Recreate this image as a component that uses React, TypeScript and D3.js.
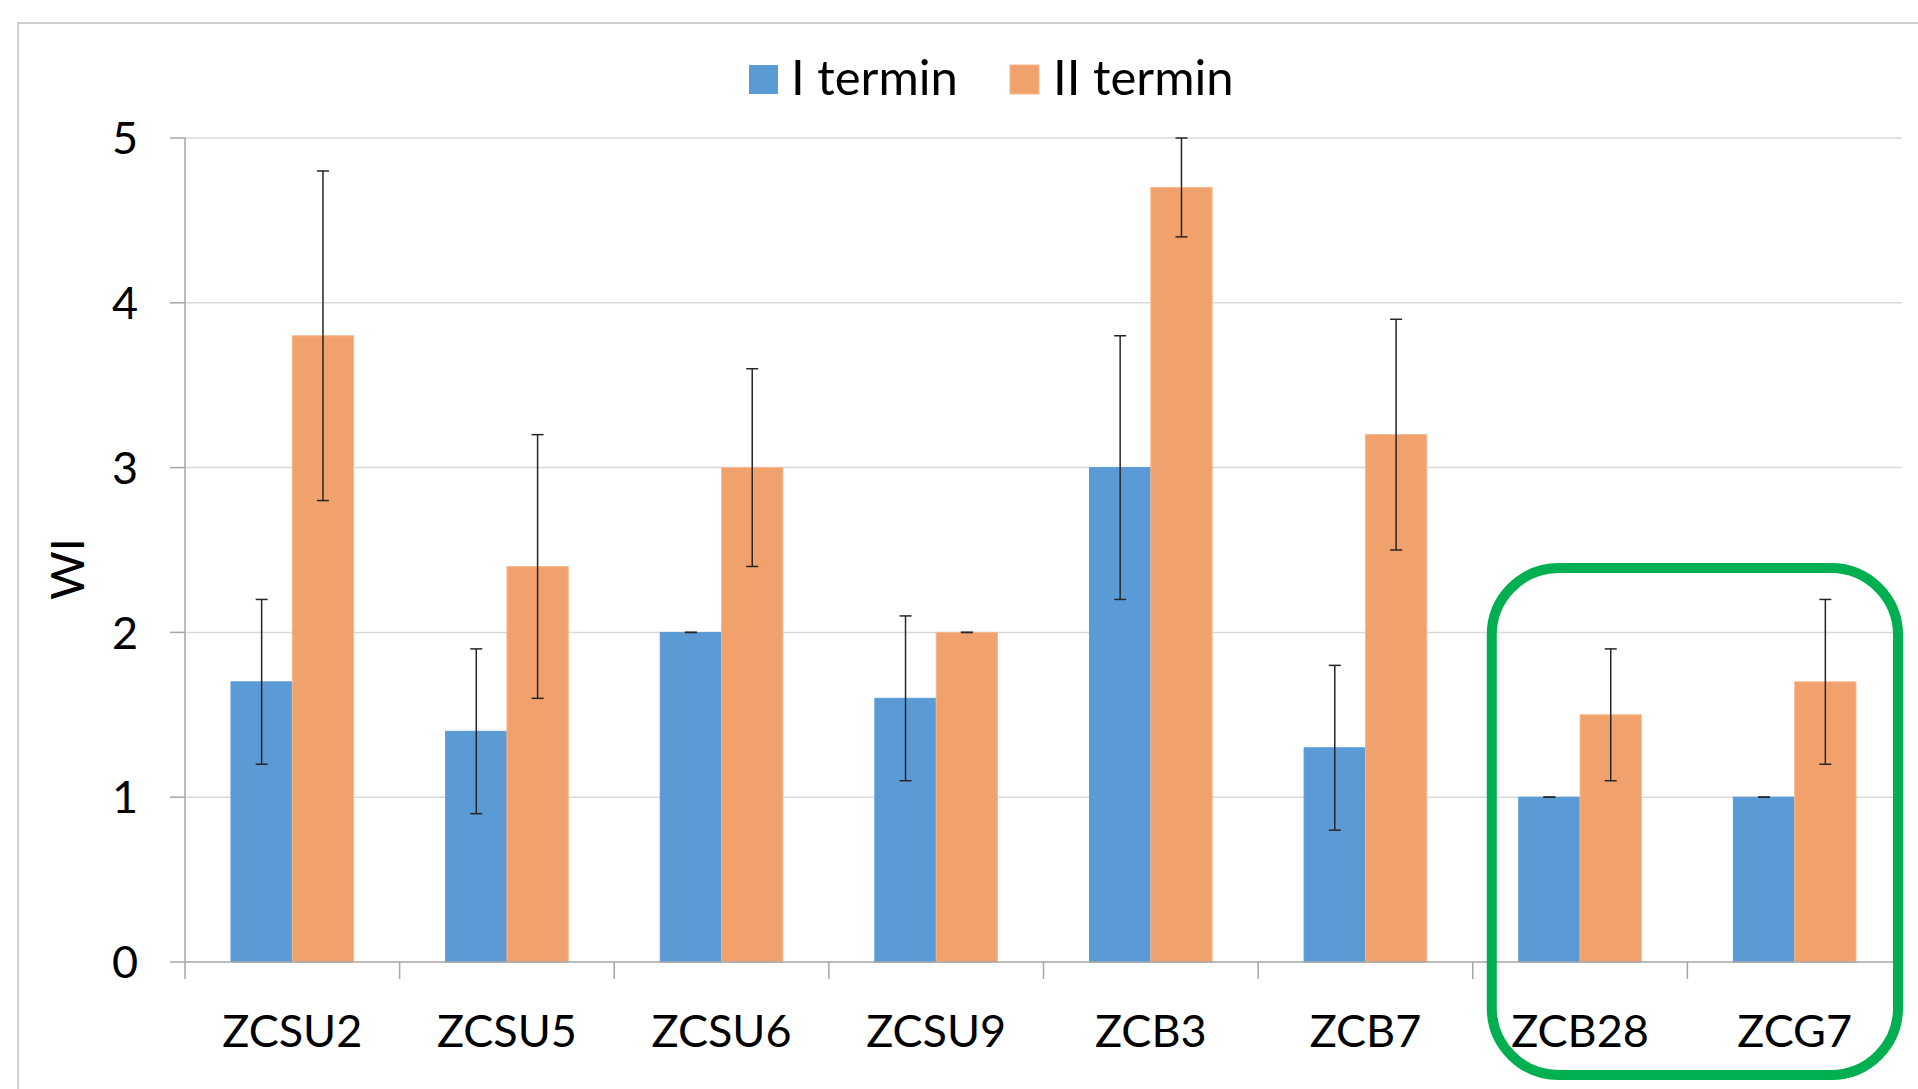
import React from "react";
import * as d3 from "d3";

const categories = ["ZCSU2", "ZCSU5", "ZCSU6", "ZCSU9", "ZCB3", "ZCB7", "ZCB28", "ZCG7"];
const seriesNames = ["I termin", "II termin"];
const termin1 = [1.7, 1.4, 2.0, 1.6, 3.0, 1.3, 1.0, 1.0];
const termin1Err = [0.5, 0.5, 0, 0.5, 0.8, 0.5, 0, 0];
const termin2 = [3.8, 2.4, 3.0, 2.0, 4.7, 3.2, 1.5, 1.7];
const termin2Err = [1.0, 0.8, 0.6, 0, 0.3, 0.7, 0.4, 0.5];
const yTicks = [0, 1, 2, 3, 4, 5];
const highlighted = ["ZCB28", "ZCG7"];

const W = 1918;
const H = 1089;
const colors = ["#5B9BD5", "#F1A26C"];
const strokes = ["#5B9BD5", "#F6B88E"];
const FONT = "Lato, 'Open Sans', sans-serif";

export default function App() {
  const left = 185;
  const right = 1902;
  const top = 138;
  const bottom = 962;

  const x = d3.scaleBand<string>().domain(categories).range([left, right]).paddingInner(0).paddingOuter(0);
  const y = d3.scaleLinear().domain([0, 5]).range([bottom, top]);
  const bw = x.bandwidth();
  const barW = bw / (2 + 1.5);
  const gap = (bw - 2 * barW) / 2;

  const series = [
    { vals: termin1, errs: termin1Err },
    { vals: termin2, errs: termin2Err },
  ];

  const hx0 = (x(highlighted[0]) as number);
  const hx1 = (x(highlighted[highlighted.length - 1]) as number) + bw;
  const boxL = hx0 + 19;
  const boxR = hx1 - 4;

  return (
    <svg width={W} height={H} style={{ position: "absolute", left: 0, top: 0, background: "#fff" }} fontFamily={FONT}>
      <rect x={18} y={23} width={W + 10} height={H + 10} fill="#fff" stroke="#BFBFBF" strokeWidth={1.5} />
      {yTicks.filter((t) => t > 0).map((t) => (
        <line key={"g" + t} x1={left} x2={right} y1={y(t)} y2={y(t)} stroke="#D9D9D9" strokeWidth={1.5} />
      ))}
      {series.map((s, si) =>
        categories.map((c, i) => {
          const bx = (x(c) as number) + gap + si * barW;
          return (
            <rect key={c + si} x={bx} y={y(s.vals[i])} width={barW} height={y(0) - y(s.vals[i])}
              fill={colors[si]} stroke={strokes[si]} strokeWidth={1} />
          );
        })
      )}
      {series.map((s, si) =>
        categories.map((c, i) => {
          const cx = (x(c) as number) + gap + si * barW + barW / 2;
          const lo = y(s.vals[i] - s.errs[i]);
          const hi = y(s.vals[i] + s.errs[i]);
          return (
            <g key={"e" + c + si} stroke="#262626" strokeWidth={1.5}>
              <line x1={cx} x2={cx} y1={lo} y2={hi} />
              <line x1={cx - 6} x2={cx + 6} y1={hi} y2={hi} />
              <line x1={cx - 6} x2={cx + 6} y1={lo} y2={lo} />
            </g>
          );
        })
      )}
      <line x1={left} x2={left} y1={top} y2={bottom} stroke="#A6A6A6" strokeWidth={1.5} />
      {yTicks.map((t) => (
        <g key={"yt" + t}>
          <line x1={left - 15} x2={left} y1={y(t)} y2={y(t)} stroke="#A6A6A6" strokeWidth={1.5} />
          <text x={138} y={y(t)} dy="0.36em" textAnchor="end" fontSize={45} fill="#000">{t}</text>
        </g>
      ))}
      <line x1={left} x2={right} y1={bottom} y2={bottom} stroke="#A6A6A6" strokeWidth={1.5} />
      {categories.map((c) => (
        <line key={"xt" + c} x1={(x(c) as number)} x2={(x(c) as number)} y1={bottom} y2={bottom + 17} stroke="#A6A6A6" strokeWidth={1.5} />
      ))}
      {categories.map((c) => (
        <text key={"xl" + c} x={(x(c) as number) + bw / 2} y={1047} textAnchor="middle" fontSize={45} fill="#000">{c}</text>
      ))}
      <text transform={`translate(84,569) rotate(-90)`} textAnchor="middle" fontSize={47} fill="#000">WI</text>
      <rect x={749} y={65} width={29} height={29} fill={colors[0]} />
      <text x={791} y={95} fontSize={49} fill="#000">{seriesNames[0]}</text>
      <rect x={1010} y={65} width={29} height={29} fill={colors[1]} stroke={strokes[1]} strokeWidth={1} />
      <text x={1053} y={95} fontSize={49} fill="#000">{seriesNames[1]}</text>
      <rect x={boxL} y={568} width={boxR - boxL} height={1075 - 568} rx={67} ry={67}
        fill="none" stroke="#00B050" strokeWidth={10} />
    </svg>
  );
}
